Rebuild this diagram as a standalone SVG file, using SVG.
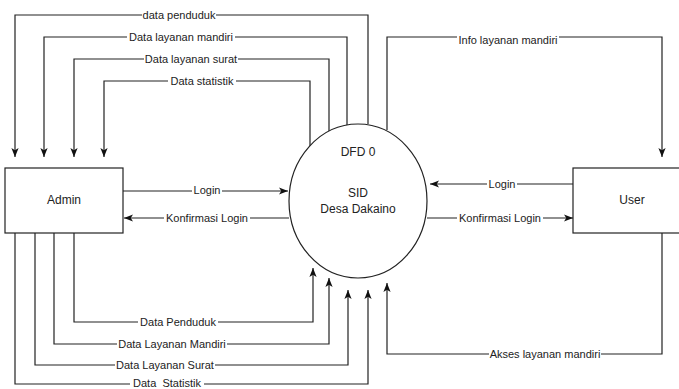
<svg xmlns="http://www.w3.org/2000/svg" width="679" height="389" viewBox="0 0 679 389">
<style>
.ln{fill:none;stroke:#222;stroke-width:1.2}
.lbl{font-family:"Liberation Sans",Arial,sans-serif;font-size:11px;fill:#222;text-anchor:middle;dominant-baseline:central}
.bg{fill:#fff}
.nt{font-family:"Liberation Sans",Arial,sans-serif;font-size:12px;fill:#222;text-anchor:middle;dominant-baseline:central}
.box{fill:#fff;stroke:#222;stroke-width:1.2}
</style>
<defs>
<marker id="ah" viewBox="0 0 10 10" refX="10" refY="5" markerWidth="9" markerHeight="9" markerUnits="userSpaceOnUse" orient="auto">
<path d="M0,1 L10,5 L0,9 L2.5,5 z" fill="#111"/>
</marker>
</defs>
<g id="connectors">
<path class="ln" marker-end="url(#ah)" d="M368,124 V15 H15 V157"/>
<path class="ln" marker-end="url(#ah)" d="M347,126 V37 H44 V157"/>
<path class="ln" marker-end="url(#ah)" d="M329,131 V59 H74 V157"/>
<path class="ln" marker-end="url(#ah)" d="M310,146 V81 H104 V157"/>
<path class="ln" marker-end="url(#ah)" d="M387,130 V37 H662 V157"/>
<path class="ln" marker-end="url(#ah)" d="M123,191 H288"/>
<path class="ln" marker-end="url(#ah)" d="M289,218 H124"/>
<path class="ln" marker-end="url(#ah)" d="M573,184 H430"/>
<path class="ln" marker-end="url(#ah)" d="M427,218 H573"/>
<path class="ln" marker-end="url(#ah)" d="M74,233 V322 H313 V268"/>
<path class="ln" marker-end="url(#ah)" d="M54,233 V344 H329 V278"/>
<path class="ln" marker-end="url(#ah)" d="M35,233 V365 H348 V290"/>
<path class="ln" marker-end="url(#ah)" d="M15,233 V384 H368 V290"/>
<path class="ln" marker-end="url(#ah)" d="M662,233 V354 H387 V283"/>
<rect class="bg" x="142" y="9" width="74" height="12"/>
<text class="lbl" x="179" y="15">data penduduk</text>
<rect class="bg" x="127" y="31" width="108" height="12"/>
<text class="lbl" x="181" y="37">Data layanan mandiri</text>
<rect class="bg" x="144" y="53" width="94" height="12"/>
<text class="lbl" x="191" y="59">Data layanan surat</text>
<rect class="bg" x="168" y="75" width="68" height="12"/>
<text class="lbl" x="202" y="81">Data statistik</text>
<rect class="bg" x="457" y="33" width="102" height="13"/>
<text class="lbl" x="508" y="40">Info layanan mandiri</text>
<rect class="bg" x="192" y="184" width="30" height="12"/>
<text class="lbl" x="207" y="190">Login</text>
<rect class="bg" x="164" y="212" width="86" height="12"/>
<text class="lbl" x="207" y="218">Konfirmasi Login</text>
<rect class="bg" x="487" y="178" width="30" height="12"/>
<text class="lbl" x="502" y="184">Login</text>
<rect class="bg" x="457" y="212" width="86" height="12"/>
<text class="lbl" x="500" y="218">Konfirmasi Login</text>
<rect class="bg" x="138" y="316" width="80" height="12"/>
<text class="lbl" x="178" y="322">Data Penduduk</text>
<rect class="bg" x="117" y="338" width="110" height="12"/>
<text class="lbl" x="172" y="344">Data Layanan Mandiri</text>
<rect class="bg" x="115" y="359" width="100" height="12"/>
<text class="lbl" x="165" y="365">Data Layanan Surat</text>
<rect class="bg" x="130" y="377" width="74" height="12"/>
<text class="lbl" x="167" y="383" xml:space="preserve">Data  Statistik</text>
<rect class="bg" x="489" y="348" width="112" height="12"/>
<text class="lbl" x="545" y="354">Akses layanan mandiri</text>
</g>
<g id="admin">
<rect class="box" x="5" y="168" width="118" height="65"/>
<text class="nt" x="64" y="200">Admin</text>
</g>
<g id="sid">
<ellipse class="box" cx="358" cy="201" rx="69" ry="77"/>
<text class="nt" x="358" y="152">DFD 0</text>
<text class="nt" x="358" y="193">SID</text>
<text class="nt" x="358" y="209">Desa Dakaino</text>
</g>
<g id="user">
<rect class="box" x="573" y="168" width="118" height="65"/>
<text class="nt" x="632" y="200">User</text>
</g>
</svg>
